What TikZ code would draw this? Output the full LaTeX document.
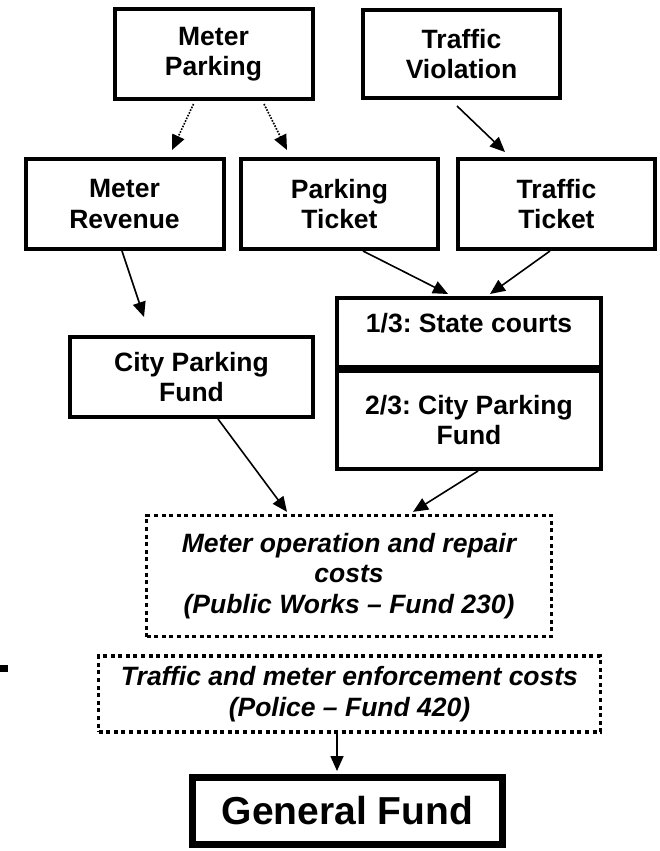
\documentclass[tikz,border=0pt]{standalone}
\usepackage{fontspec}
\setmainfont{Liberation Sans}
\usetikzlibrary{arrows.meta,positioning}
\frenchspacing

\begin{document}
\begin{tikzpicture}[
    x=1pt, y=-1pt,
    box/.style={draw, line width=4pt, align=center, minimum width=198pt, minimum height=90pt,
      font=\fontsize{26.5}{30.5}\selectfont\bfseries},
    cost/.style={draw, line width=3.3pt, dash pattern=on 4pt off 3.6pt, align=center,
      font=\fontsize{26.5}{30.5}\selectfont\bfseries\itshape},
    final/.style={draw, line width=7pt, minimum width=310pt, minimum height=67pt,
      font=\fontsize{39}{44}\selectfont\bfseries},
    arrow/.style={-{Triangle[length=15pt,width=13pt]}, line width=1.6pt},
    dotarrow/.style={arrow, dash pattern=on 1.6pt off 1.4pt}
  ]
  \useasboundingbox (0,0) rectangle (660,851);

  % Sources
  \node[box] (mp) at (213.5,54) {Meter\\Parking};
  \node[box, minimum width=197pt, minimum height=88pt] (tv) at (461.5,54) {Traffic\\Violation};

  % Revenue and tickets
  \node[box] (mr) at (124.5,204) {Meter\\Revenue};
  \node[box, minimum width=197pt] (pt) at (339.5,204) {Parking\\Ticket};
  \node[box, minimum width=197pt] (tt) at (556.5,204) {Traffic\\Ticket};

  % Funds
  \node[box, minimum width=243pt, minimum height=80pt] (cpf) at (191.5,377) {City Parking\\Fund};
  \node[box, minimum width=264pt, minimum height=69pt, text depth=20pt] (sc1) at (469,332.5) {1/3: State courts};
  \node[box, minimum width=264pt, minimum height=98pt, below=0pt of sc1] (sc2) {2/3: City Parking\\Fund};

  % Costs
  \node[cost, minimum width=405pt, minimum height=121pt] (mo) at (349,576)
    {Meter operation and repair\\costs\\(Public Works – Fund 230)};
  \node[cost, minimum width=502pt, minimum height=76pt] (enf) at (349.5,694)
    {Traffic and meter enforcement costs\\(Police – Fund 420)};

  % Result
  \node[final] (gf) at (347.5,811) {General Fund};

  \fill (0,665) rectangle (8,672);

  % Connections
  \draw[dotarrow] ([xshift=-20pt,yshift=-3pt]mp.south) -- ([xshift=47.5pt,yshift=7pt]mr.north);
  \draw[dotarrow] ([xshift=50.5pt,yshift=-3pt]mp.south) -- ([xshift=-52.5pt,yshift=7pt]pt.north);
  \draw[arrow] ([xshift=-4.5pt,yshift=-6pt]tv.south) -- ([xshift=-51.5pt,yshift=5pt]tt.north);

  \draw[arrow] ([xshift=-2.5pt]mr.south) -- ([xshift=-47.5pt,yshift=18pt]cpf.north);
  \draw[arrow] ([xshift=23.5pt]pt.south) -- ([xshift=-21pt,yshift=2pt]sc1.north);
  \draw[arrow] ([xshift=-6.5pt]tt.south) -- ([xshift=21pt,yshift=2pt]sc1.north);

  \draw[arrow] ([xshift=26.5pt]cpf.south) -- ([xshift=-62pt,yshift=2pt]mo.north);
  \draw[arrow] ([xshift=9pt]sc2.south) -- ([xshift=64pt,yshift=2pt]mo.north);
  \draw[arrow] ([xshift=-12.5pt]enf.south) -- ([xshift=-10.5pt,yshift=3pt]gf.north);

\end{tikzpicture}
\end{document}
